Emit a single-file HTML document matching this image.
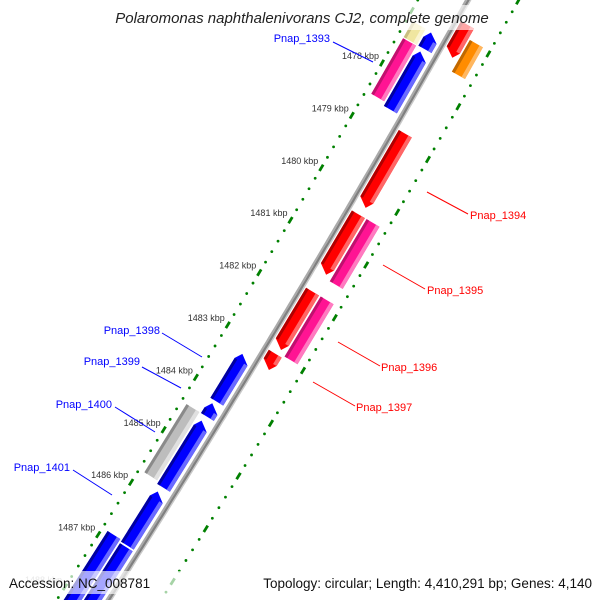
<!DOCTYPE html>
<html><head><meta charset="utf-8"><style>
html,body{margin:0;padding:0;background:#fff;width:600px;height:600px;overflow:hidden;}
svg{display:block;font-family:"Liberation Sans",sans-serif;}
</style></head><body>
<svg id="map" width="600" height="600" viewBox="0 0 600 600"></svg>
<script>
// ---- data ----
const tickKbp = [1477,1478,1479,1480,1481,1482,1483,1484,1485,1486,1487,1488];
const tickLabels = ["1477 kbp","1478 kbp","1479 kbp","1480 kbp","1481 kbp","1482 kbp","1483 kbp","1484 kbp","1485 kbp","1486 kbp","1487 kbp","1488 kbp"];
const geneStart = [1476.75,1476.95,1477.15,1477.16,1477.47,1477.52,1478.82,1480.35,1480.35,1481.82,1481.82,1483.0,1483.28,1484.22,1484.45,1484.55,1485.9,1486.87,1486.93];
const geneEnd   = [1477.35,1477.55,1477.45,1477.45,1478.53,1478.6,1480.2,1481.47,1481.53,1482.9,1482.96,1483.28,1484.16,1484.45,1485.75,1485.8,1486.9,1488.6,1488.6];
const geneLane  = ["rn","rf","lf","ln","lf","ln","rn","rn","rf","rn","rf","rn","ln","ln","lf","ln","ln","lf","ln"];
const geneColor = ["red","orange","yellow","blue","pink","blue","red","red","pink","red","pink","red","blue","blue","gray","blue","blue","blue","blue"];
const geneArrow = [1,0,0,-1,0,-1,1,1,0,1,0,1,-1,-1,0,-1,-1,0,0];
const labelNames = ["Pnap_1393","Pnap_1398","Pnap_1399","Pnap_1400","Pnap_1401","Pnap_1394","Pnap_1395","Pnap_1396","Pnap_1397"];

// ---- axis functions ----
function C(k){const u=k-1478;return [382-30*u-0.17*u*u, 63+52.4*u];}
function N(k){const u=k-1478;const tx=-30-0.34*u, ty=52.4;const L=Math.hypot(tx,ty);return [ty/L,-tx/L];}
function P(k,d){const c=C(k),n=N(k);return [c[0]+d*n[0],c[1]+d*n[1]];}
const lanes={lf:[6,21],ln:[23,38],rn:[48,63],rf:[65,80]};
const palette={red:["#ff0000","#ff6666","#b00000"],pink:["#ff1493","#ff7ac0","#c0106e"],blue:["#0000ff","#6a6aff","#0000a0"],gray:["#bdbdbd","#e0e0e0","#8a8a8a"],orange:["#ff8c00","#ffb760","#c06800"],yellow:["#f0e6a0","#faf4d0","#c8bd80"]};
const svg=document.getElementById('map');
const NS='http://www.w3.org/2000/svg';
function mk(tag,attrs,parent){const e=document.createElementNS(NS,tag);for(const a in attrs)e.setAttribute(a,attrs[a]);(parent||svg).appendChild(e);return e;}
function pts(a){return a.map(p=>p[0].toFixed(1)+','+p[1].toFixed(1)).join(' ');}

// rings
function ring(d,name){
  const g=mk('g',{});
  
  
  for(let i=7375;i<=7450;i++){
    const k=i/5;
    if(i%5===0){
      const a=P(k-0.06,d),b=P(k+0.06,d);
      mk('line',{x1:a[0],y1:a[1],x2:b[0],y2:b[1],stroke:'#008000','stroke-width':2.8},g);
    } else {
      const a=P(k,d);
      mk('circle',{cx:a[0],cy:a[1],r:1.4,fill:'#008000'},g);
    }
  }
}
ring(0,'inner-tick-ring');
ring(88,'outer-tick-ring');

// backbone
(function(){
  const a=[],b=[],c=[];
  for(let k=1476.2;k<=1489.0;k+=0.1){a.push(P(k,42));b.push(P(k,44.5));c.push(P(k,46));}
  const g=mk('g',{});
  
  
  mk('polyline',{points:pts(a),fill:'none',stroke:'#aaaaaa','stroke-width':2},g);
  mk('polyline',{points:pts(b),fill:'none',stroke:'#808080','stroke-width':3},g);
  mk('polyline',{points:pts(c),fill:'none',stroke:'#c8c8c8','stroke-width':1.5},g);
})();

// genes
for(let i=0;i<geneStart.length;i++){
  const k0=geneStart[i],k1=geneEnd[i],ln=lanes[geneLane[i]],col=palette[geneColor[i]];
  const d0=ln[0],d1=ln[1],dm=(d0+d1)/2;
  let poly;
  const ah=0.12;
  if(geneArrow[i]===1){
    poly=[P(k0,d0),P(k1-ah,d0),P(k1,dm+3),P(k1-ah,d1),P(k0,d1)];
  } else if(geneArrow[i]===-1){
    poly=[P(k0+ah,d0),P(k0,dm-3),P(k0+ah,d1),P(k1,d1),P(k1,d0)];
  } else {
    poly=[P(k0,d0),P(k1,d0),P(k1,d1),P(k0,d1)];
  }
  const g=mk('g',{});
  
  
  mk('polygon',{points:pts(poly),fill:col[0]},g);
  const s0=geneArrow[i]===-1?k0+ah:k0, s1=geneArrow[i]===1?k1-ah:k1;
  mk('polygon',{points:pts([P(s0,d1-4),P(s1,d1-4),P(s1,d1),P(s0,d1)]),fill:col[1]},g);
  mk('polygon',{points:pts([P(s0,d0),P(s1,d0),P(s1,d0+3),P(s0,d0+3)]),fill:col[2]},g);
}

// tick labels
for(let i=0;i<tickKbp.length;i++){
  const c=C(tickKbp[i]);
  if(c[1]<20||c[1]>600)continue;
  const t=mk('text',{x:c[0]-3,y:c[1]-4,'text-anchor':'end','font-size':9,fill:'#333'});
  
  
  if(tickKbp[i]===1488)t.setAttribute('fill','#bbb');
  t.textContent=tickLabels[i];
}

// gene labels
const lblPos=[[330,42,333,42,373,62,'blue','end'],[160,334,162,333,202,357,'blue','end'],[140,365,142,367,181,388,'blue','end'],[112,408,115,407,155,432,'blue','end'],[70,471,73,470,112,495,'blue','end'],[470,219,427,192,468,214,'red','start'],[427,294,383,265,425,289,'red','start'],[381,371,338,342,380,366,'red','start'],[356,411,313,382,355,406,'red','start']];
for(let i=0;i<labelNames.length;i++){
  const p=lblPos[i],col=p[6]==='blue'?'#0000ff':'#ff0000';
  const l=mk('line',{x1:p[2],y1:p[3],x2:p[4],y2:p[5],stroke:col,'stroke-width':1});
  
  
  const t=mk('text',{x:p[0],y:p[1],'text-anchor':p[7],'font-size':11,fill:col});
  
  
  t.textContent=labelNames[i];
}

// overlays & captions
const tb=mk('rect',{x:108,y:5,width:390,height:25,fill:'#fff','fill-opacity':0.65});


const tt=mk('text',{x:302,y:23,'text-anchor':'middle','font-size':15,'font-style':'italic',fill:'#222'});


tt.textContent='Polaromonas naphthalenivorans CJ2, complete genome';
const bb=mk('rect',{x:0,y:571,width:600,height:23,fill:'#fff','fill-opacity':0.65});


const ac=mk('text',{x:9,y:588,'font-size':13.5,fill:'#111'});


ac.textContent='Accession: NC_008781';
const tp=mk('text',{x:592,y:588,'text-anchor':'end','font-size':13.5,fill:'#111'});


tp.textContent='Topology: circular; Length: 4,410,291 bp; Genes: 4,140';
</script>
</body></html>
